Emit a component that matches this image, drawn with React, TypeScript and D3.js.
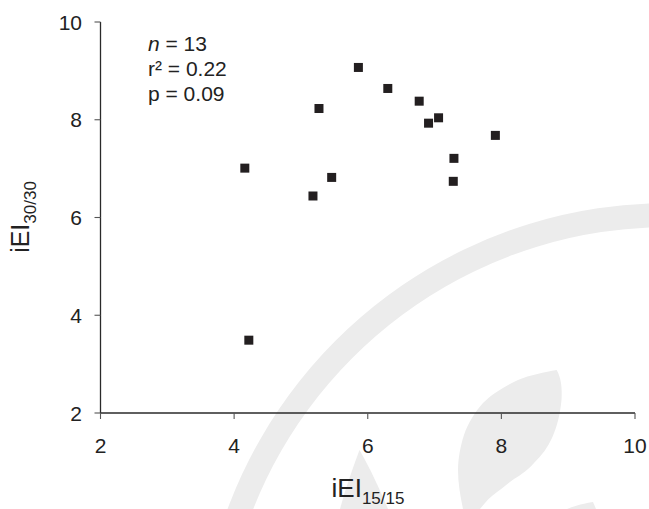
import React from "react";
import * as d3 from "d3";

const xValues = [5.86, 6.30, 6.77, 5.27, 7.06, 6.91, 7.91, 4.16, 7.29, 5.46, 7.28, 5.18, 4.22];
const yValues = [9.07, 8.64, 8.38, 8.23, 8.04, 7.93, 7.68, 7.01, 7.21, 6.82, 6.74, 6.44, 3.49];
const xTicks = [2, 4, 6, 8, 10];
const yTicks = [2, 4, 6, 8, 10];
const statsLines = [
  { italic: "n", rest: " = 13" },
  { italic: "", rest: "r² = 0.22" },
  { italic: "", rest: "p = 0.09" },
];

const W = 649;
const H = 509;
const FONT = "'Liberation Sans', Arial, sans-serif";

export default function App() {
  const x = d3.scaleLinear().domain([2, 10]).range([100.5, 635]);
  const y = d3.scaleLinear().domain([2, 10]).range([413, 22]);

  const arcPath = d3.arc()({
    innerRadius: 446,
    outerRadius: 470,
    startAngle: -2.1,
    endAngle: 0.3,
  } as any) as string;

  const leaf =
    "M556.7,370 C545,372 530,375 518,380 C503,387 492,394 483,403 C475,412 468,423 464,435 C460,447 458,460 458,470 C458,482 460,495 463,509 L480,509 C484,504 487,500 492,496 C500,490 506,485 514,479 C522,474 528,470 534,463 C542,455 548,447 552,438 C557,427 560,415 561.5,400 C562,390 562,380 556.7,370 Z";
  const tri = "M359.5,450 C352,470 345,490 340,509 L388,509 C380,490 370,468 359.5,450 Z";
  const small = "M593,502 C580,504 572,507 567,509 L596,509 Z";

  const sq = 9;

  return (
    <svg width={W} height={H} style={{ position: "absolute", left: 0, top: 0, background: "#fff" }} fontFamily={FONT}>
      <rect x={0} y={0} width={W} height={H} fill="#fff" />
      {/* watermark */}
      <g fill="#ececec">
        <path d={arcPath} transform="translate(668,673)" />
        <path d={leaf} />
        <path d={tri} />
        <path d={small} />
      </g>

      {/* axes */}
      <line x1={x(2)} x2={x(10)} y1={y(2)} y2={y(2)} stroke="#2a2a2a" strokeWidth={1.3} />
      <line x1={x(2)} x2={x(2)} y1={y(2)} y2={y(10)} stroke="#2a2a2a" strokeWidth={1.3} />
      {xTicks.map((t) => (
        <g key={"xt" + t}>
          <line x1={x(t)} x2={x(t)} y1={y(2)} y2={y(2) + 6} stroke="#555" strokeWidth={1.1} />
          <text x={x(t)} y={453} textAnchor="middle" fontSize={21} fill="#222">
            {t}
          </text>
        </g>
      ))}
      {yTicks.map((t) => (
        <g key={"yt" + t}>
          <line x1={x(2) - 6} x2={x(2)} y1={y(t)} y2={y(t)} stroke="#555" strokeWidth={1.1} />
          <text x={82} y={y(t)} textAnchor="end" dominantBaseline="central" fontSize={21} fill="#222">
            {t}
          </text>
        </g>
      ))}

      {/* axis titles */}
      <text x={368} y={497} textAnchor="middle" fontSize={26} fill="#222">
        iEI
        <tspan fontSize={17} dy={7}>15/15</tspan>
      </text>
      <text transform="translate(29,217) rotate(-90)" textAnchor="middle" fontSize={25} fill="#222">
        iEI
        <tspan fontSize={17} dy={7}>30/30</tspan>
      </text>

      {/* stats */}
      {statsLines.map((s, i) => (
        <text key={"s" + i} x={148} y={51 + i * 25} fontSize={21} fill="#222">
          {s.italic ? <tspan fontStyle="italic">{s.italic}</tspan> : null}
          {s.rest}
        </text>
      ))}

      {/* points */}
      {xValues.map((v, i) => (
        <rect
          key={"p" + i}
          x={x(v) - sq / 2}
          y={y(yValues[i]) - sq / 2}
          width={sq}
          height={sq}
          fill="#231f20"
        />
      ))}
    </svg>
  );
}
